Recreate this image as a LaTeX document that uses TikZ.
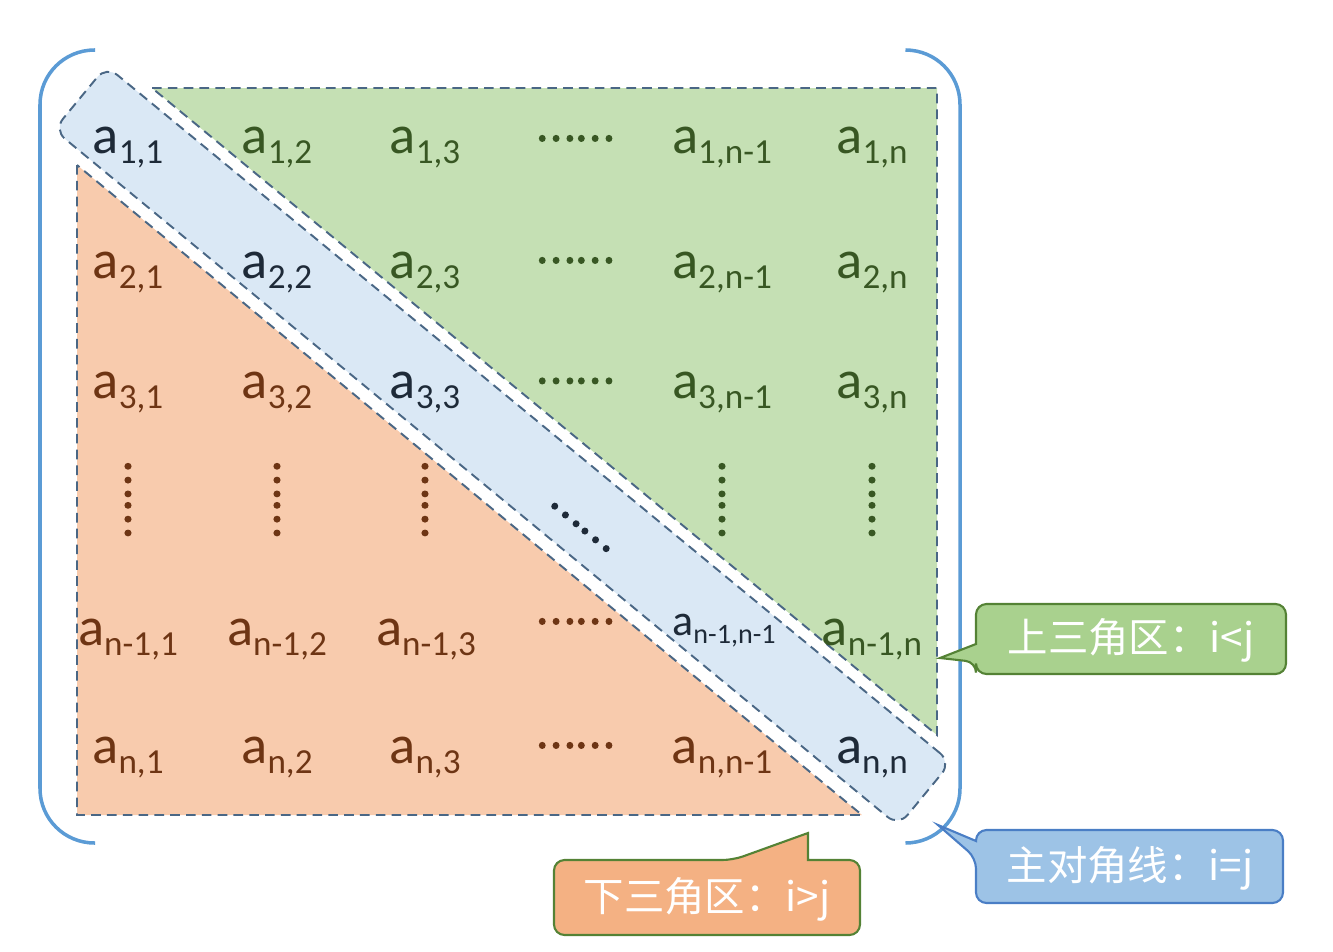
\documentclass[tikz,border=0pt]{standalone}
\usepackage{fontspec}
\setmainfont{Carlito}
\newfontfamily\cjk{Noto Sans CJK SC}
\newfontfamily\cjkdots[FakeBold=5]{Noto Sans CJK SC}
\definecolor{upfill}{HTML}{C5E0B4}
\definecolor{lofill}{HTML}{F8CBAD}
\definecolor{diagfill}{HTML}{DAE8F5}
\definecolor{dashblue}{HTML}{4A6785}
\definecolor{brblue}{HTML}{5B9BD5}
\definecolor{uptext}{HTML}{385723}
\definecolor{lotext}{HTML}{6E3514}
\definecolor{dgtext}{HTML}{1E2A38}
\definecolor{upcall}{HTML}{A9D18E}
\definecolor{upedge}{HTML}{548235}
\definecolor{locall}{HTML}{F4B183}
\definecolor{dgcall}{HTML}{9DC3E6}
\definecolor{dgedge}{HTML}{4A7EC5}
\newcommand{\ent}[1]{\fontsize{31}{31}\selectfont a\raisebox{-6pt}{\fontsize{20}{20}\selectfont #1}}
\newcommand{\sment}[1]{\fontsize{25}{25}\selectfont a\raisebox{-5pt}{\fontsize{16}{16}\selectfont #1}}
\newcommand{\edots}{\fontsize{21}{21}\selectfont\cjkdots ……}
\tikzset{
  dashline/.style={draw=dashblue, line width=1.1pt, dash pattern=on 5.5pt off 3.5pt},
  entry/.style={anchor=base, inner sep=0pt},
  upent/.style={entry, text=uptext},
  loent/.style={entry, text=lotext},
  dgent/.style={entry, text=dgtext},
  bracket/.style={draw=brblue, line width=2pt, rounded corners=31pt},
  callout/.style={line width=1.2pt, rounded corners=6pt},
  calltext/.style={text=white, font=\fontsize{23}{23}\selectfont\cjk}
}
\begin{document}
\begin{tikzpicture}[x=0.02cm, y=-0.02cm]
\useasboundingbox (0,0) rectangle (1333,951);
% upper and lower part
\fill[upfill] (152,88) -- (937,88) -- (937,735) -- cycle;
\draw[dashline] (152,88) -- (937,88) -- (937,735) -- cycle;
\fill[lofill] (77,165) -- (77,815) -- (862,815) -- cycle;
\draw[dashline] (77,165) -- (77,815) -- (862,815) -- cycle;
\node[dashline, fill=diagfill, rotate=-39.5, minimum width=623pt, minimum height=47pt,
  rounded corners=8pt] (band) at (502.5,446) {};
\path
(128,153) node[dgent] (a11) {\ent{1,1}}
(277,153) node[upent] (a12) {\ent{1,2}}
(425,153) node[upent] (a13) {\ent{1,3}}
(575,140.5) node[upent] (d1) {\edots}
(722,153) node[upent] (a1m) {\ent{1,n-1}}
(872,153) node[upent] (a1n) {\ent{1,n}}
(128,278) node[loent] (a21) {\ent{2,1}}
(277,278) node[dgent] (a22) {\ent{2,2}}
(425,278) node[upent] (a23) {\ent{2,3}}
(575,262.5) node[upent] (d2) {\edots}
(722,278) node[upent] (a2m) {\ent{2,n-1}}
(872,278) node[upent] (a2n) {\ent{2,n}}
(128,398) node[loent] (a31) {\ent{3,1}}
(277,398) node[loent] (a32) {\ent{3,2}}
(425,398) node[dgent] (a33) {\ent{3,3}}
(575,383) node[upent] (d3) {\edots}
(722,398) node[upent] (a3m) {\ent{3,n-1}}
(872,398) node[upent] (a3n) {\ent{3,n}};
\path[nodes={inner sep=0pt}]
(128,499) node[text=lotext, rotate=-90] (v1) {\edots}
(277,499) node[text=lotext, rotate=-90] (v2) {\edots}
(425,499) node[text=lotext, rotate=-90] (v3) {\edots}
(580,527) node[text=dgtext, rotate=-39.5] (vd) {\edots}
(722,499) node[text=uptext, rotate=-90] (v5) {\edots}
(872,499) node[text=uptext, rotate=-90] (v6) {\edots};
\path
(128,645) node[loent] (am1) {\ent{n-1,1}}
(277,645) node[loent] (am2) {\ent{n-1,2}}
(426,645) node[loent] (am3) {\ent{n-1,3}}
(575,623.5) node[loent] (d5) {\edots}
(724,635) node[dgent] (amm) {\sment{n-1,n-1}}
(872,645) node[upent] (amn) {\ent{n-1,n}}
(128,763) node[loent] (an1) {\ent{n,1}}
(277,763) node[loent] (an2) {\ent{n,2}}
(425,763) node[loent] (an3) {\ent{n,3}}
(575,747.5) node[loent] (d6) {\edots}
(722,763) node[loent] (anm) {\ent{n,n-1}}
(872,763) node[dgent] (ann) {\ent{n,n}};
% brackets
\draw[bracket] (95,50) -- (40,50) -- (40,843) -- (95,843);
\draw[bracket] (906,50) -- (960,50) -- (960,843) -- (906,843);
% callouts
\coordinate (tipup) at (940,658);
\coordinate (tipdg) at (938,825);
\coordinate (tiplo) at (808,833);
\draw[callout, draw=upedge, fill=upcall] (1130,604) -- (1286,604) -- (1286,674) -- (976,674)
  -- (976,662) [sharp corners] -- (tipup) -- (976,644) [rounded corners=6pt] -- (976,604) -- cycle;
\draw[callout, draw=dgedge, fill=dgcall] (1130,830) -- (1283,830) -- (1283,903) -- (976,903)
  -- (976,858) [sharp corners] -- (tipdg) -- (976,841) [rounded corners=6pt] -- (976,830) -- cycle;
\draw[callout, draw=upedge, fill=locall] (554,900) -- (554,860) -- (733,860) [sharp corners]
  -- (tiplo) -- (808,860) [rounded corners=6pt] -- (860,860) -- (860,935) -- (554,935) -- cycle;
\node[calltext] (lblup) at (1131,640) {上三角区：i<j};
\node[calltext] (lbldg) at (1130,868) {主对角线：i=j};
\node[calltext] (lbllo) at (707,899) {下三角区：i>j};
\end{tikzpicture}
\end{document}
